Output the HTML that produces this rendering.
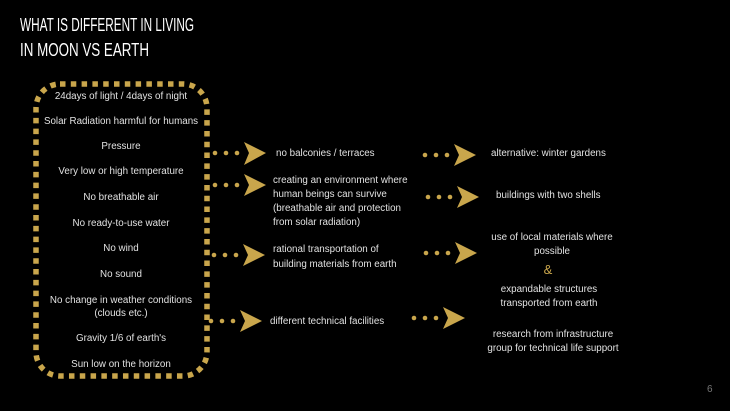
<!DOCTYPE html>
<html><head><meta charset="utf-8"><style>
html,body{margin:0;padding:0;background:#000;}
svg{display:block}
text{font-family:"Liberation Sans",sans-serif;fill:#e2e2e2;font-size:9.8px}
.t{font-family:"Liberation Sans",sans-serif;fill:#fff;font-size:18px}
.c{text-anchor:middle}
</style></head><body>
<svg width="730" height="411" viewBox="0 0 730 411" xmlns="http://www.w3.org/2000/svg">
<rect width="730" height="411" fill="#000"/>
<text class="t" x="20" y="31" textLength="174" lengthAdjust="spacingAndGlyphs">WHAT IS DIFFERENT IN LIVING</text>
<text class="t" x="20" y="56" textLength="129" lengthAdjust="spacingAndGlyphs">IN MOON VS EARTH</text>
<rect x="36" y="84" width="171" height="292" rx="24" fill="none" stroke="#c9a64c" stroke-width="5.5" stroke-dasharray="5.5 5.3"/>
<g>
<text class="c" x="121" y="99">24days of light / 4days of night</text>
<text class="c" x="121" y="124">Solar Radiation harmful for humans</text>
<text class="c" x="121" y="149">Pressure</text>
<text class="c" x="121" y="174">Very low or high temperature</text>
<text class="c" x="121" y="200">No breathable air</text>
<text class="c" x="121" y="226">No ready-to-use water</text>
<text class="c" x="121" y="251">No wind</text>
<text class="c" x="121" y="277">No sound</text>
<text class="c" x="121" y="303">No change in weather conditions</text>
<text class="c" x="121" y="316">(clouds etc.)</text>
<text class="c" x="121" y="341">Gravity 1/6 of earth's</text>
<text class="c" x="121" y="367">Sun low on the horizon</text>
</g>
<g fill="#c9a64c">
<circle cx="215" cy="153" r="2.3"/><circle cx="226" cy="153" r="2.3"/><circle cx="237" cy="153" r="2.3"/>
<polygon points="244,142 266,153 244,165 249,153"/>
<circle cx="215" cy="185" r="2.3"/><circle cx="226" cy="185" r="2.3"/><circle cx="237" cy="185" r="2.3"/>
<polygon points="244,174 266,185 244,196 249,185"/>
<circle cx="214" cy="255" r="2.3"/><circle cx="225" cy="255" r="2.3"/><circle cx="236" cy="255" r="2.3"/>
<polygon points="243,244 265,255 243,266 248,255"/>
<circle cx="211" cy="321" r="2.3"/><circle cx="222" cy="321" r="2.3"/><circle cx="233" cy="321" r="2.3"/>
<polygon points="240,310 262,321 240,332 245,321"/>
<circle cx="425" cy="155" r="2.3"/><circle cx="436" cy="155" r="2.3"/><circle cx="447" cy="155" r="2.3"/>
<polygon points="454,144 476,155 454,166 459,155"/>
<circle cx="428" cy="197" r="2.3"/><circle cx="439" cy="197" r="2.3"/><circle cx="450" cy="197" r="2.3"/>
<polygon points="457,186 479,197 457,208 462,197"/>
<circle cx="426" cy="253" r="2.3"/><circle cx="437" cy="253" r="2.3"/><circle cx="448" cy="253" r="2.3"/>
<polygon points="455,242 477,253 455,264 460,253"/>
<circle cx="414" cy="318" r="2.3"/><circle cx="425" cy="318" r="2.3"/><circle cx="436" cy="318" r="2.3"/>
<polygon points="443,307 465,318 443,329 448,318"/>
</g>
<text x="276" y="156">no balconies / terraces</text>
<text x="273" y="183">creating an environment where</text>
<text x="273" y="197">human beings can survive</text>
<text x="273" y="211">(breathable air and protection</text>
<text x="273" y="225">from solar radiation)</text>
<text x="273" y="252">rational transportation of</text>
<text x="273" y="267">building materials from earth</text>
<text x="270" y="324">different technical facilities</text>
<text x="491" y="156">alternative: winter gardens</text>
<text x="496" y="198">buildings with two shells</text>
<text class="c" x="552" y="240">use of local materials where</text>
<text class="c" x="552" y="254">possible</text>
<text class="c" x="548" y="274" style="fill:#c9a64c;font-size:13px">&amp;</text>
<text class="c" x="549" y="292">expandable structures</text>
<text class="c" x="549" y="306">transported from earth</text>
<text class="c" x="553" y="337">research from infrastructure</text>
<text class="c" x="553" y="351">group for technical life support</text>
<text x="707" y="392" style="fill:#777;font-size:10px">6</text>
</svg>
</body></html>
